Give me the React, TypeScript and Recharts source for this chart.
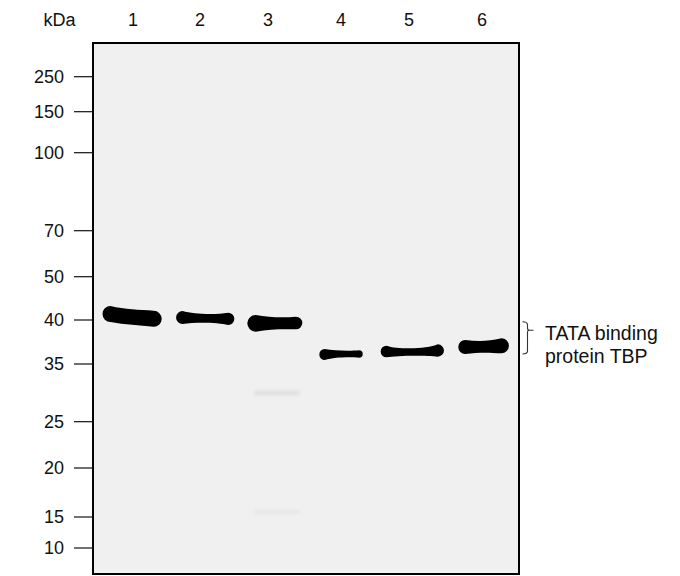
import {
  ComposedChart,
  Scatter,
  XAxis,
  YAxis,
  ReferenceArea,
} from "recharts";

// lanes along the top of the blot
const LANES = [1, 2, 3, 4, 5, 6];
const LANE_LABELS = ["1", "2", "3", "4", "5", "6"];

// molecular weight ladder: kDa and migration distance (mm from the top of the membrane)
const MARKER_KDA = [250, 150, 100, 70, 50, 40, 35, 25, 20, 15, 10];
const MARKER_MIGRATION = [3.37, 6.87, 10.97, 18.77, 23.37, 27.7, 32.1, 37.87, 42.5, 47.4, 50.5];

// TBP band per lane (migration, mm)
const BAND_MIGRATION = [27.4, 27.53, 28.03, 31.1, 30.9, 30.38];

// very faint extra signal in lane 3
const FAINT_LANES = [3, 3];
const FAINT_MIGRATION = [35.0, 46.9];
const FAINT_INTENSITY = [0.22, 0.1];

// bracket on the right side: TBP migration range
const TBP_RANGE = [27.87, 31.1];
const TBP_LABEL = ["TATA binding", "protein TBP"];

const GEL_LENGTH = 53.1;
const X_DOMAIN = [0.4286, 6.5143];

// band look (pixels): width, thickness at left / middle / right, vertical offsets of the ends
const BAND_W = [59.2, 58.3, 55, 43.4, 63.3, 50.7];
const BAND_T = [[16, 15.5, 16], [13, 8.7, 12.3], [16.7, 12, 12.7], [11, 6.7, 7.5], [11.7, 7.3, 12.3], [14, 11.7, 15]];
const BAND_TILT = [[-3, 1.8], [-0.8, 0.5], [0, -0.3], [0.5, 0], [-0.5, -1.5], [0.2, -1]];
const BAND_DX = [-0.9, 2.2, 1.8, -2, -0.7, 0.6];
const LABEL_DX = [0, -3, -5, -2, -4, -1];

const FONT = "'Liberation Sans', Arial, sans-serif";

const bandRows = LANES.map((lane, i) => ({ lane, migration: BAND_MIGRATION[i] }));
const faintRows = FAINT_LANES.map((lane, i) => ({
  lane,
  migration: FAINT_MIGRATION[i],
  intensity: FAINT_INTENSITY[i],
}));

function bandPath(cx: number, cy: number, i: number) {
  const w = BAND_W[i];
  const [tl, tm, tr] = BAND_T[i];
  const [dyl, dyr] = BAND_TILT[i];
  const x0 = cx + BAND_DX[i];
  const xl = x0 - w / 2 + tl / 2;
  const xr = x0 + w / 2 - tr / 2;
  const yl = cy + dyl;
  const yr = cy + dyr;
  const kl = tl * 0.9;
  const kr = tr * 0.9;
  // control points so that the curve passes the mid thickness halfway
  const topEnds = (yl - tl / 2 + yr - tr / 2) / 2;
  const botEnds = (yl + tl / 2 + yr + tr / 2) / 2;
  const topCtrl = (cy - tm / 2 - 0.25 * topEnds) / 0.75;
  const botCtrl = (cy + tm / 2 - 0.25 * botEnds) / 0.75;
  return (
    `M${xl},${yl - tl / 2} C${xl + kl},${topCtrl} ${xr - kr},${topCtrl} ${xr},${yr - tr / 2} ` +
    `A${tr / 2},${tr / 2} 0 0 1 ${xr},${yr + tr / 2} ` +
    `C${xr - kr},${botCtrl} ${xl + kl},${botCtrl} ${xl},${yl + tl / 2} ` +
    `A${tl / 2},${tl / 2} 0 0 1 ${xl},${yl - tl / 2} Z`
  );
}

const BandShape = (props: any) => {
  const { cx, cy, payload } = props;
  if (cx == null || cy == null) return null;
  const i = LANES.indexOf(payload.lane);
  return (
    <g>
      {i === 0 && (
        <defs>
          <filter id="band-soft" x="-20%" y="-60%" width="140%" height="220%">
            <feGaussianBlur stdDeviation="0.6" />
          </filter>
        </defs>
      )}
      <path d={bandPath(cx, cy, i)} fill="#030303" filter="url(#band-soft)" />
    </g>
  );
};

const FaintShape = (props: any) => {
  const { cx, cy, payload } = props;
  if (cx == null || cy == null) return null;
  const id = `faint-${String(payload.migration).replace(".", "-")}`;
  return (
    <g opacity={payload.intensity}>
      <defs>
        <filter id={id} x="-50%" y="-200%" width="200%" height="500%">
          <feGaussianBlur stdDeviation="1.6" />
        </filter>
      </defs>
      <rect
        x={cx - 19}
        y={cy - 2.5}
        width={46}
        height={5}
        rx={2.5}
        fill="#a8a8a8"
        filter={`url(#${id})`}
      />
    </g>
  );
};

const LaneTick = (props: any) => {
  const { x, y, payload, index } = props;
  return (
    <text
      x={x + (LABEL_DX[index] || 0)}
      y={y}
      textAnchor="middle"
      fontFamily={FONT}
      fontSize={18}
      fill="#111"
    >
      {LANE_LABELS[LANES.indexOf(payload.value)]}
    </text>
  );
};

const Bracket = (props: any) => {
  const { x, y, height } = props;
  if (x == null || y == null) return null;
  const bx = x + 8.5;
  const mid = y + 8.5;
  const bottom = y + height;
  return (
    <g>
      <path
        d={`M${bx - 5},${y} Q${bx},${y} ${bx},${y + 3} L${bx},${mid - 2} Q${bx},${mid} ${bx + 2},${mid} L${bx + 6},${mid} M${bx + 2},${mid} Q${bx},${mid} ${bx},${mid + 2} L${bx},${bottom - 3} Q${bx},${bottom} ${bx - 5},${bottom}`}
        fill="none"
        stroke="#333"
        strokeWidth={1.1}
      />
      {TBP_LABEL.map((line, k) => (
        <text
          key={line}
          x={x + 26}
          y={y + 17.8 + k * 23}
          fontFamily={FONT}
          fontSize={19.5}
          fill="#111"
        >
          {line}
        </text>
      ))}
    </g>
  );
};

export default function App() {
  return (
    <div style={{ position: "absolute", left: 0, top: 0, width: 680, height: 576, background: "#fff" }}>
      <ComposedChart
        width={680}
        height={576}
        margin={{ top: 0, right: 161, bottom: 2, left: 0 }}
      >
        <XAxis
          xAxisId="lane"
          dataKey="lane"
          type="number"
          orientation="top"
          domain={X_DOMAIN}
          ticks={LANES}
          interval={0}
          height={43}
          axisLine={false}
          tickLine={false}
          tickSize={6}
          tickMargin={11}
          tick={<LaneTick />}
        />
        <YAxis
          yAxisId="mig"
          dataKey="migration"
          type="number"
          domain={[0, GEL_LENGTH]}
          reversed
          ticks={MARKER_MIGRATION}
          interval={0}
          width={93}
          axisLine={false}
          tickLine={{ stroke: "#111", strokeWidth: 1.2 }}
          tickSize={19}
          tickMargin={10}
          tick={{ fill: "#111", fontSize: 18, fontFamily: FONT }}
          tickFormatter={(v: number) => String(MARKER_KDA[MARKER_MIGRATION.indexOf(v)])}
          label={(p: any) => {
            const vb = p.viewBox || {};
            return (
              <text
                x={vb.x + vb.width - 33.5}
                y={vb.y - 17}
                textAnchor="middle"
                fontFamily={FONT}
                fontSize={18}
                fill="#111"
              >
                kDa
              </text>
            );
          }}
        />
        <ReferenceArea
          xAxisId="lane"
          yAxisId="mig"
          x1={X_DOMAIN[0]}
          x2={X_DOMAIN[1]}
          y1={0}
          y2={GEL_LENGTH}
          fill="#f0f0f0"
          fillOpacity={1}
          stroke="#000"
          strokeWidth={2}
          ifOverflow="visible"
        />
        <ReferenceArea
          xAxisId="lane"
          yAxisId="mig"
          x1={X_DOMAIN[1]}
          x2={X_DOMAIN[1]}
          y1={TBP_RANGE[0]}
          y2={TBP_RANGE[1]}
          ifOverflow="visible"
          shape={<Bracket />}
        />
        <Scatter
          xAxisId="lane"
          yAxisId="mig"
          data={faintRows}
          dataKey="migration"
          shape={<FaintShape />}
          isAnimationActive={false}
        />
        <Scatter
          xAxisId="lane"
          yAxisId="mig"
          data={bandRows}
          dataKey="migration"
          shape={<BandShape />}
          isAnimationActive={false}
        />
      </ComposedChart>
    </div>
  );
}
